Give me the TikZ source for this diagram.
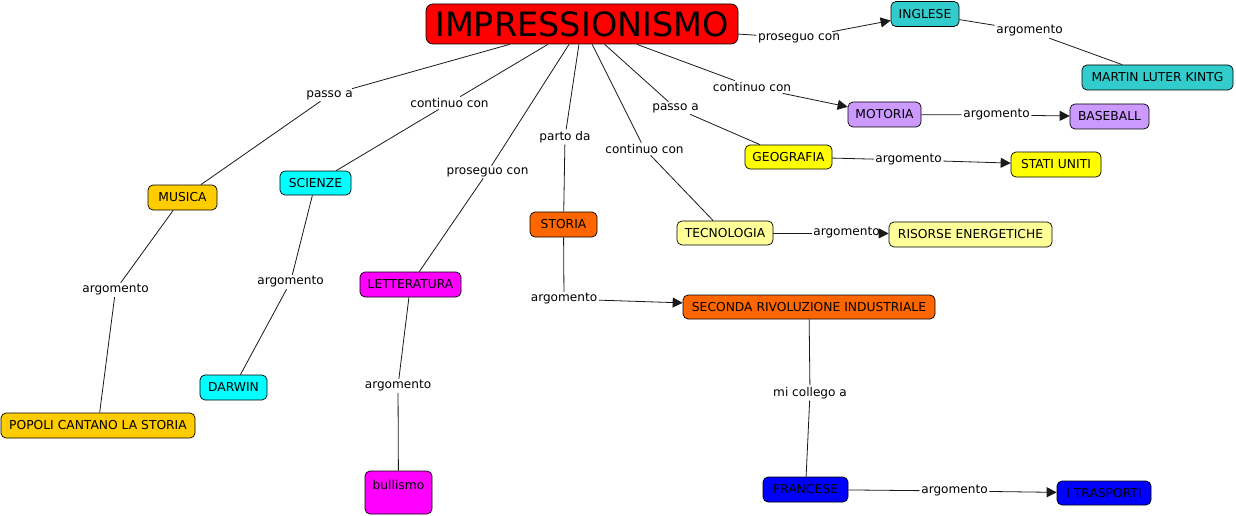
\documentclass[tikz,border=0pt]{standalone}
\usepackage{fontspec}
\setmainfont{DejaVu Sans}
\usetikzlibrary{arrows.meta}
\definecolor{cred}{HTML}{FF0000}
\definecolor{cteal}{HTML}{33CCCC}
\definecolor{clav}{HTML}{CC99FF}
\definecolor{cyel}{HTML}{FFFF00}
\definecolor{clyel}{HTML}{FFFF99}
\definecolor{corange}{HTML}{FF6600}
\definecolor{cblue}{HTML}{0000FF}
\definecolor{cgold}{HTML}{FFCC00}
\definecolor{ccyan}{HTML}{00FFFF}
\definecolor{cmag}{HTML}{FF00FF}
\begin{document}
\begin{tikzpicture}[x=1pt,y=-1pt,
  box/.style={draw=black, line width=0.7pt, rounded corners=5pt, inner sep=0pt,
    font=\fontsize{12.3}{14}\selectfont, text=black},
  lbl/.style={inner sep=1.5pt, font=\fontsize{12.1}{14}\selectfont, text=black},
  con/.style={draw=black!90, line width=0.8pt},
  arr/.style={con, -{Triangle[length=10pt,width=10pt]}}]
\useasboundingbox[fill=white] (0,0) rectangle (1236,516);
% concepts
\node[box, fill=cred, minimum width=312pt, minimum height=40pt, rounded corners=7pt,
  font=\fontsize{33.5}{36}\selectfont] (imp) at (582,24) {IMPRESSIONISMO};
\node[box, fill=cteal, minimum width=68pt, minimum height=25pt] (ingl) at (925,14) {INGLESE};
\node[box, fill=cteal, minimum width=151pt, minimum height=25pt] (martin) at (1157.5,77.5) {MARTIN LUTER KINTG};
\node[box, fill=clav, minimum width=73pt, minimum height=25pt] (motoria) at (884.5,114.5) {MOTORIA};
\node[box, fill=clav, minimum width=79pt, minimum height=25pt] (baseball) at (1109.5,116.5) {BASEBALL};
\node[box, fill=cyel, minimum width=87pt, minimum height=24pt] (geo) at (788.5,157) {GEOGRAFIA};
\node[box, fill=cyel, minimum width=90pt, minimum height=25pt] (stati) at (1056,164.5) {STATI UNITI};
\node[box, fill=clyel, minimum width=96pt, minimum height=24pt] (tecno) at (725,233) {TECNOLOGIA};
\node[box, fill=clyel, minimum width=163pt, minimum height=25pt] (risorse) at (970.5,234.5) {RISORSE ENERGETICHE};
\node[box, fill=corange, minimum width=67pt, minimum height=25pt] (storia) at (563.5,224.5) {STORIA};
\node[box, fill=corange, minimum width=252pt, minimum height=24pt] (seconda) at (809,307) {SECONDA RIVOLUZIONE INDUSTRIALE};
\node[box, fill=cblue, minimum width=85pt, minimum height=25pt] (francese) at (805.5,489.5) {FRANCESE};
\node[box, fill=cblue, minimum width=94pt, minimum height=24pt] (trasporti) at (1104,493) {I TRASPORTI};
\node[box, fill=cgold, minimum width=69pt, minimum height=25pt] (musica) at (182.5,197.5) {MUSICA};
\node[box, fill=cgold, minimum width=194pt, minimum height=25pt] (popoli) at (98,425.5) {POPOLI CANTANO LA STORIA};
\node[box, fill=ccyan, minimum width=71pt, minimum height=24pt] (scienze) at (315.5,183) {SCIENZE};
\node[box, fill=ccyan, minimum width=67pt, minimum height=25pt] (darwin) at (233.5,387.5) {DARWIN};
\node[box, fill=cmag, minimum width=101pt, minimum height=25pt] (lett) at (410.5,284.5) {LETTERATURA};
\node[box, fill=cmag, minimum width=67pt, inner ysep=4pt, text height=14pt, text depth=21pt] (bull) at (398.5,492.5) {bullismo};
% linking phrases
\node[lbl] (l1) at (799,38) {proseguo con};
\node[lbl] (l2) at (1029.5,31) {argomento};
\node[lbl] (l3) at (752,87) {continuo con};
\node[lbl] (l4) at (996.5,115) {argomento};
\node[lbl] (l5) at (675.5,108) {passo a};
\node[lbl] (l6) at (908.5,160) {argomento};
\node[lbl] (l7) at (644.5,149) {continuo con};
\node[lbl] (l8) at (846.5,233) {argomento};
\node[lbl] (l9) at (565,137) {parto da};
\node[lbl] (l10) at (564,299) {argomento};
\node[lbl] (l11) at (810,393) {mi collego a};
\node[lbl] (l12) at (954.5,491) {argomento};
\node[lbl] (l13) at (487.5,172) {proseguo con};
\node[lbl] (l14) at (398,386) {argomento};
\node[lbl] (l15) at (449.5,103) {continuo con};
\node[lbl] (l16) at (290.5,282) {argomento};
\node[lbl] (l17) at (329.5,95) {passo a};
\node[lbl] (l18) at (115.5,290) {argomento};
% connectors
\draw[con] (imp) -- (l1); \draw[arr] (l1) -- (ingl);
\draw[con] (ingl) -- (l2); \draw[con] (l2) -- (martin);
\draw[con] (imp) -- (l3); \draw[arr] (l3) -- (motoria);
\draw[con] (motoria) -- (l4); \draw[arr] (l4) -- (baseball);
\draw[con] (imp) -- (l5); \draw[con] (l5) -- (geo);
\draw[con] (geo) -- (l6); \draw[arr] (l6) -- (stati);
\draw[con] (imp) -- (l7); \draw[con] (l7) -- (tecno);
\draw[con] (tecno) -- (l8); \draw[arr] (l8) -- (risorse);
\draw[con] (imp) -- (l9); \draw[con] (l9) -- (storia);
\draw[con] (storia) -- (l10); \draw[arr] (l10) -- (seconda);
\draw[con] (seconda) -- (l11); \draw[con] (l11) -- (francese);
\draw[con] (francese) -- (l12); \draw[arr] (l12) -- (trasporti);
\draw[con] (imp) -- (l13); \draw[con] (l13) -- (lett);
\draw[con] (lett) -- (l14); \draw[con] (l14) -- (bull);
\draw[con] (imp) -- (l15); \draw[con] (l15) -- (scienze);
\draw[con] (scienze) -- (l16); \draw[con] (l16) -- (darwin);
\draw[con] (imp) -- (l17); \draw[con] (l17) -- (musica);
\draw[con] (musica) -- (l18); \draw[con] (l18) -- (popoli);
\end{tikzpicture}
\end{document}
